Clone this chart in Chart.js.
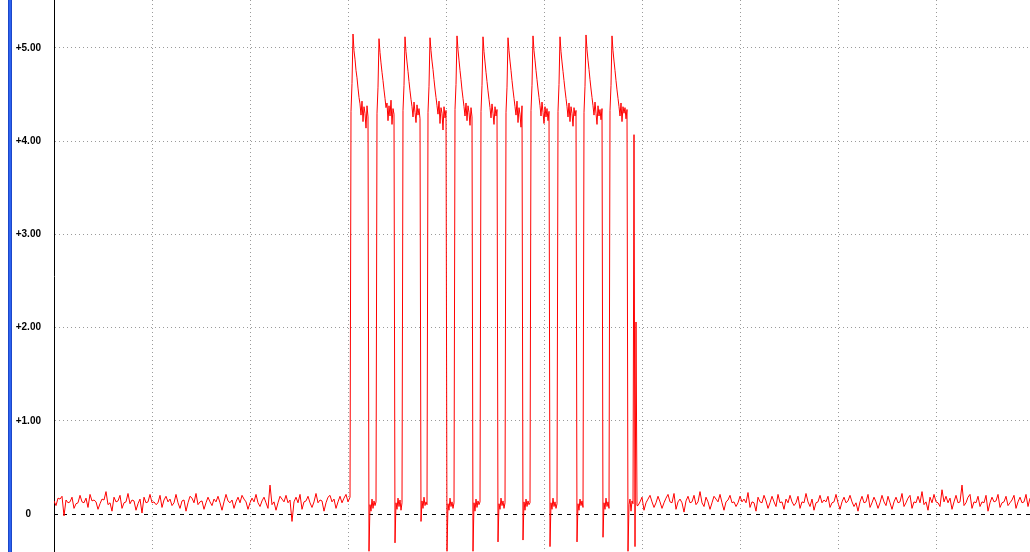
<!DOCTYPE html>
<html>
<head>
<meta charset="utf-8">
<title>Scope trace</title>
<script src="https://cdn.jsdelivr.net/npm/chart.js@4.4.1/dist/chart.umd.min.js"></script>
<style>
    html, body { margin: 0; padding: 0; background: #ffffff; }
    #scope-wrap { position: relative; width: 1030px; height: 552px; }
</style>
</head>
<body>
<div id="scope-wrap"><canvas id="scopeCanvas"></canvas></div>
<script>
// 1. Trace data (x = sample number, y = volts)
const noiseStep = 2;

// idle line before the burst, one value every noiseStep samples from 0
const leftNoise = [
    0.14, 0.09, 0.17, 0.16, 0.19, -0.02, 0.15, 0.12, 0.13, 0.18,
    0.06, 0.11, 0.12, 0.20, 0.13, 0.12, 0.17, 0.07, 0.21, 0.14,
    0.15, 0.13, 0.05, 0.11, 0.16, 0.15, 0.24, 0.10, 0.12, 0.03,
    0.18, 0.13, 0.14, 0.20, 0.06, 0.12, 0.13, 0.22, 0.11, 0.15,
    0.14, 0.04, 0.11, 0.16, 0.01, 0.18, 0.12, 0.13, 0.21, 0.12,
    0.13, 0.10, 0.12, 0.20, 0.07, 0.15, 0.19, 0.13, 0.16, 0.09,
    0.12, 0.21, 0.12, 0.06, 0.14, 0.15, 0.03, 0.12, 0.19, 0.17,
    0.12, 0.22, 0.10, 0.13, 0.14, 0.05, 0.12, 0.18, 0.13, 0.09,
    0.16, 0.13, 0.19, 0.12, 0.04, 0.13, 0.21, 0.14, 0.12, 0.15,
    0.06, 0.13, 0.18, 0.12, 0.20, 0.16, 0.13, 0.05, 0.12, 0.17,
    0.13, 0.21, 0.12, 0.08, 0.14, 0.18, 0.12, 0.06, 0.31, 0.10,
    0.13, 0.04, 0.12, 0.19, 0.16, 0.13, 0.20, 0.12, 0.15, -0.08,
    0.13, 0.18, 0.12, 0.21, 0.05, 0.13, 0.14, 0.19, 0.12, 0.07,
    0.13, 0.22, 0.12, 0.15, 0.14, 0.03, 0.12, 0.18, 0.20, 0.13,
    0.16, 0.06, 0.13, 0.19, 0.12, 0.17, 0.21, 0.13
];

// the pulse burst, [sample, volts]
const burst = [
    [296, 0.18], [297, 4.32], [298, 4.62], [299, 5.15], [300, 4.97], [301, 4.88], [302, 4.76], [303, 4.68],
    [304, 4.57], [305, 4.47], [306, 4.40], [307, 4.28], [308, 4.43], [309, 4.21], [310, 4.37], [311, 4.30],
    [312, 4.14], [313, 4.38], [314, 4.26], [315, -0.40], [316, 0.10], [317, 0.03], [318, 0.16], [319, 0.06],
    [320, 0.14], [321, 0.09], [322, 0.13],
    [323, 4.30], [324, 4.58], [325, 5.10], [326, 4.95], [327, 4.84], [328, 4.74], [329, 4.65], [330, 4.55],
    [331, 4.46], [332, 4.36], [333, 4.41], [334, 4.22], [335, 4.38], [336, 4.27], [337, 4.44], [338, 4.18],
    [339, 4.35], [340, 4.29], [341, -0.31], [342, 0.12], [343, 0.05], [344, 0.17], [345, 0.08], [346, 0.15],
    [347, 0.04], [348, 0.12],
    [349, 4.33], [350, 4.60], [351, 5.12], [352, 4.96], [353, 4.85], [354, 4.75], [355, 4.64], [356, 4.54],
    [357, 4.45], [358, 4.37], [359, 4.26], [360, 4.42], [361, 4.31], [362, 4.20], [363, 4.39], [364, 4.28],
    [365, 4.35], [366, 4.24], [367, -0.08], [368, 0.14], [369, 0.06], [370, 0.18], [371, 0.09], [372, 0.13],
    [373, 0.10],
    [374, 4.31], [375, 4.59], [376, 5.11], [377, 4.97], [378, 4.86], [379, 4.77], [380, 4.66], [381, 4.56],
    [382, 4.47], [383, 4.38], [384, 4.29], [385, 4.43], [386, 4.19], [387, 4.36], [388, 4.30], [389, 4.12],
    [390, 4.37], [391, 4.25], [392, 4.33], [393, -0.40], [394, 0.11], [395, 0.04], [396, 0.17], [397, 0.08],
    [398, 0.13], [399, 0.06], [400, 0.12],
    [401, 4.34], [402, 4.61], [403, 5.13], [404, 4.98], [405, 4.87], [406, 4.76], [407, 4.66], [408, 4.55],
    [409, 4.46], [410, 4.37], [411, 4.27], [412, 4.41], [413, 4.22], [414, 4.38], [415, 4.31], [416, 4.17],
    [417, 4.36], [418, 4.26], [419, -0.40], [420, 0.12], [421, 0.03], [422, 0.16], [423, 0.07], [424, 0.14],
    [425, 0.10], [426, 0.13],
    [427, 4.32], [428, 4.60], [429, 5.12], [430, 4.96], [431, 4.85], [432, 4.74], [433, 4.64], [434, 4.54],
    [435, 4.45], [436, 4.36], [437, 4.25], [438, 4.40], [439, 4.30], [440, 4.18], [441, 4.37], [442, 4.27],
    [443, 4.34], [444, -0.30], [445, 0.11], [446, 0.05], [447, 0.17], [448, 0.09], [449, 0.14], [450, 0.06],
    [451, 0.12],
    [452, 4.31], [453, 4.58], [454, 5.11], [455, 4.97], [456, 4.86], [457, 4.76], [458, 4.65], [459, 4.55],
    [460, 4.46], [461, 4.37], [462, 4.28], [463, 4.43], [464, 4.20], [465, 4.36], [466, 4.29], [467, 4.15],
    [468, 4.38], [469, -0.28], [470, 0.13], [471, 0.04], [472, 0.16], [473, 0.08], [474, 0.14], [475, 0.10],
    [476, 0.12],
    [477, 4.33], [478, 4.60], [479, 5.13], [480, 4.97], [481, 4.87], [482, 4.76], [483, 4.66], [484, 4.56],
    [485, 4.47], [486, 4.38], [487, 4.27], [488, 4.42], [489, 4.31], [490, 4.19], [491, 4.37], [492, 4.26],
    [493, 4.35], [494, 4.22], [495, 4.32], [496, -0.35], [497, 0.12], [498, 0.05], [499, 0.17], [500, 0.08],
    [501, 0.13], [502, 0.06], [503, 0.11],
    [504, 4.32], [505, 4.61], [506, 5.12], [507, 4.96], [508, 4.85], [509, 4.75], [510, 4.65], [511, 4.55],
    [512, 4.46], [513, 4.37], [514, 4.26], [515, 4.41], [516, 4.21], [517, 4.37], [518, 4.30], [519, 4.16],
    [520, 4.36], [521, 4.27], [522, 4.33], [523, -0.30], [524, 0.11], [525, 0.04], [526, 0.16], [527, 0.09],
    [528, 0.14], [529, 0.07],
    [530, 4.31], [531, 4.59], [532, 5.14], [533, 4.98], [534, 4.87], [535, 4.77], [536, 4.66], [537, 4.56],
    [538, 4.47], [539, 4.38], [540, 4.28], [541, 4.42], [542, 4.30], [543, 4.18], [544, 4.38], [545, 4.27],
    [546, 4.34], [547, 4.23], [548, 4.35], [549, -0.25], [550, 0.12], [551, 0.05], [552, 0.17], [553, 0.08],
    [554, 0.13], [555, 0.06],
    [556, 4.33], [557, 4.60], [558, 5.13], [559, 4.97], [560, 4.86], [561, 4.76], [562, 4.65], [563, 4.55],
    [564, 4.46], [565, 4.37], [566, 4.27], [567, 4.41], [568, 4.21], [569, 4.37], [570, 4.30], [571, 4.36],
    [572, 4.24], [573, 4.34], [574, -0.40], [575, 0.10], [576, 0.16], [577, 0.03], [578, 0.14], [579, 0.11],
    [580, 4.07], [581, -0.35], [582, 2.06], [583, 0.09]
];

// idle line after the burst, one value every noiseStep samples from rightStart
const rightStart = 584;
const rightNoise = [
    0.09, 0.13, 0.18, 0.04, 0.12, 0.16, 0.20, 0.13, 0.07, 0.12,
    0.19, 0.13, 0.06, 0.12, 0.17, 0.21, 0.13, 0.12, 0.22, 0.05,
    0.13, 0.16, 0.12, 0.02, 0.14, 0.19, 0.12, 0.13, 0.20, 0.10,
    0.13, 0.24, 0.12, 0.08, 0.18, 0.13, 0.05, 0.12, 0.19, 0.16,
    0.13, 0.21, 0.12, 0.04, 0.13, 0.15, 0.20, 0.12, 0.13, 0.08,
    0.12, 0.19, 0.13, 0.16, 0.12, 0.23, 0.07, 0.13, 0.12, 0.03,
    0.18, 0.13, 0.12, 0.20, 0.14, 0.06, 0.12, 0.19, 0.13, 0.08,
    0.21, 0.12, 0.13, 0.05, 0.16, 0.12, 0.20, 0.13, 0.09, 0.12,
    0.19, 0.06, 0.13, 0.12, 0.22, 0.13, 0.08, 0.16, 0.04, 0.12,
    0.13, 0.20, 0.12, 0.15, 0.13, 0.19, 0.07, 0.12, 0.13, 0.21,
    0.12, 0.05, 0.13, 0.18, 0.12, 0.14, 0.20, 0.13, 0.08, 0.12,
    0.03, 0.13, 0.19, 0.12, 0.13, 0.21, 0.07, 0.12, 0.18, 0.13,
    0.06, 0.12, 0.20, 0.13, 0.09, 0.19, 0.12, 0.05, 0.13, 0.18,
    0.12, 0.13, 0.22, 0.08, 0.12, 0.17, 0.20, 0.06, 0.13, 0.12,
    0.19, 0.12, 0.24, 0.10, 0.13, 0.04, 0.18, 0.12, 0.21, 0.13,
    0.12, 0.08, 0.26, 0.13, 0.19, 0.12, 0.17, 0.05, 0.13, 0.20,
    0.12, 0.13, 0.31, 0.09, 0.12, 0.18, 0.21, 0.06, 0.13, 0.12,
    0.19, 0.08, 0.13, 0.12, 0.20, 0.03, 0.12, 0.18, 0.13, 0.14,
    0.21, 0.07, 0.12, 0.13, 0.19, 0.09, 0.12, 0.15, 0.20, 0.06,
    0.13, 0.18, 0.12, 0.13, 0.21, 0.08, 0.17
];

// axis setup: 98 samples per division, volts ticks
const xMin = 0;
const xMax = 976;
const xGridTicks = [98, 196, 294, 392, 490, 588, 686, 784, 882];
const yMin = -0.408;
const yMax = 5.515;
const yTickValues = [0, 1, 2, 3, 4, 5];
const yTickLabels = ['0', '+1.00', '+2.00', '+3.00', '+4.00', '+5.00'];

// 2. Build one point list for the trace
const tracePoints = [];
leftNoise.forEach((v, i) => tracePoints.push({ x: i * noiseStep, y: v }));
burst.forEach(([t, v]) => tracePoints.push({ x: t, y: v }));
rightNoise.forEach((v, i) => tracePoints.push({ x: rightStart + i * noiseStep, y: v }));

// 3. Small plugin for the scope furniture (blue side bar, dashed ground line)
const scopeDecor = {
    id: 'scopeDecor',
    beforeDatasetsDraw(chart) {
        const { ctx, chartArea, scales } = chart;
        const y0 = Math.round(scales.y.getPixelForValue(0)) + 0.5;
        ctx.save();
        ctx.strokeStyle = '#000000';
        ctx.lineWidth = 1;
        ctx.setLineDash([4, 5]);
        ctx.beginPath();
        ctx.moveTo(chartArea.left, y0);
        ctx.lineTo(chartArea.right, y0);
        ctx.stroke();
        ctx.restore();
    },
    afterDraw(chart) {
        const { ctx, height } = chart;
        ctx.save();
        ctx.fillStyle = '#1c47c8';
        ctx.fillRect(8, 0, 4, height);
        ctx.fillStyle = '#2d62f0';
        ctx.fillRect(9, 0, 2, height);
        ctx.restore();
    }
};

// 4. Chart
new Chart(document.getElementById('scopeCanvas'), {
    type: 'line',
    data: {
        datasets: [{
            data: tracePoints,
            borderColor: '#ff0000',
            borderWidth: 1,
            pointRadius: 0,
            tension: 0,
            fill: false
        }]
    },
    options: {
        responsive: true,
        maintainAspectRatio: false,
        animation: false,
        events: [],
        layout: { padding: 0 },
        plugins: {
            legend: { display: false },
            tooltip: { enabled: false }
        },
        scales: {
            x: {
                type: 'linear',
                min: xMin,
                max: xMax,
                afterBuildTicks: (scale) => { scale.ticks = xGridTicks.map(v => ({ value: v })); },
                afterFit: (scale) => { scale.height = 0; scale.paddingLeft = 0; scale.paddingRight = 0; },
                ticks: { display: false },
                grid: { color: '#9a9a9a', lineWidth: 1, drawTicks: false },
                border: { display: false, dash: [1, 3] }
            },
            y: {
                type: 'linear',
                min: yMin,
                max: yMax,
                afterBuildTicks: (scale) => { scale.ticks = yTickValues.map(v => ({ value: v })); },
                // fixed label column; no extra top/bottom room for the labels
                afterFit: (scale) => { scale.width = 54; scale.paddingTop = 0; scale.paddingBottom = 0; },
                ticks: {
                    crossAlign: 'center',
                    padding: 13,
                    color: '#000000',
                    font: { family: "'Liberation Sans', Arial, sans-serif", size: 10, weight: 'bold' },
                    callback: (value, index) => yTickLabels[index]
                },
                grid: {
                    color: (c) => (c.tick && c.tick.value === 0 ? 'rgba(0,0,0,0)' : '#9a9a9a'),
                    lineWidth: 1,
                    drawTicks: false
                },
                border: { display: true, color: '#000000', width: 1, dash: [1, 3] }
            }
        }
    },
    plugins: [scopeDecor]
});
</script>
</body>
</html>
